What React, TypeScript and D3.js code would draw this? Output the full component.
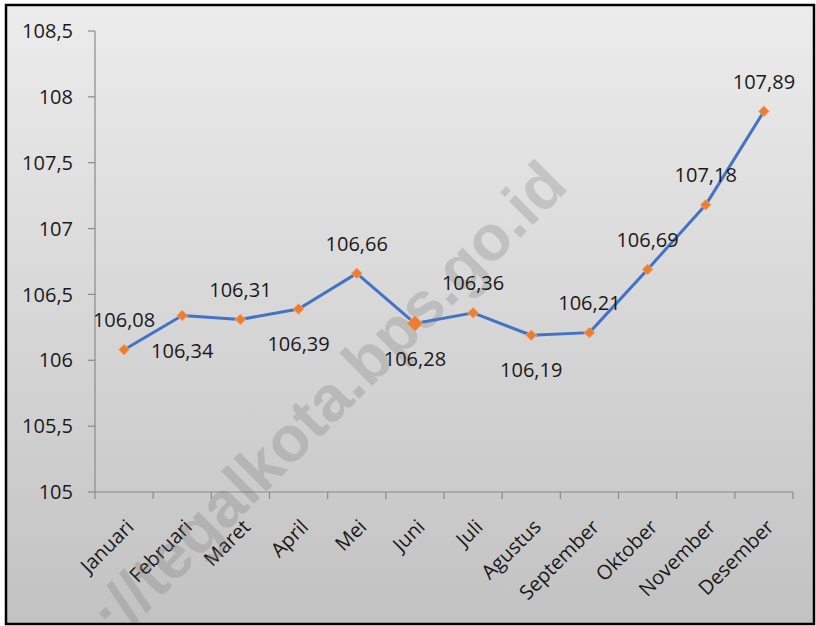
import React from "react";
import * as d3 from "d3";

const months = ["Januari","Februari","Maret","April","Mei","Juni","Juli","Agustus","September","Oktober","November","Desember"];
const values = [106.08,106.34,106.31,106.39,106.66,106.28,106.36,106.19,106.21,106.69,107.18,107.89];
const labelSide = ["above","below","above","below","above","below","above","below","above","above","above","above"];
const yTicks = [105,105.5,106,106.5,107,107.5,108,108.5];

const W = 816, H = 626;
const FONT = "'Open Sans', 'Noto Sans', sans-serif";

export default function App() {
  const x = d3.scaleBand<string>().domain(months).range([95, 793]);
  const y = d3.scaleLinear().domain([105, 108.5]).range([492, 31]);
  const cx = (m: string) => (x(m) as number) + x.bandwidth() / 2;
  const fmt = (v: number) => String(v).replace(".", ",");
  const line = d3.line<number>().x((_, i) => cx(months[i])).y((v) => y(v));
  const edges = months.map((m) => x(m) as number).concat([x.range()[1]]);
  const sq = d3.symbol().type(d3.symbolSquare);

  return (
    <svg width={W} height={H} style={{ position: "absolute", left: 0, top: 0, background: "#fff" }}>
      <defs>
        <linearGradient id="bg" x1="0" y1="0" x2="0" y2="1">
          <stop offset="0" stopColor="#ececec" />
          <stop offset="1" stopColor="#c2c2c2" />
        </linearGradient>
        <clipPath id="clip">
          <rect x={6} y={5} width={808} height={619} />
        </clipPath>
      </defs>
      <rect x={6} y={5} width={808} height={619} fill="url(#bg)" />

      {/* y axis */}
      <line x1={95} x2={95} y1={y(108.5)} y2={y(105)} stroke="#8a8a8a" strokeWidth={1.2} />
      {yTicks.map((t) => (
        <g key={t}>
          <line x1={88} x2={95} y1={y(t)} y2={y(t)} stroke="#8a8a8a" strokeWidth={1.2} />
          <text x={73} y={y(t)} dy="0.36em" textAnchor="end" fontFamily={FONT} fontSize={20} fill="#1a1a1a">
            {fmt(t)}
          </text>
        </g>
      ))}

      {/* x axis */}
      <line x1={x.range()[0]} x2={x.range()[1]} y1={y(105)} y2={y(105)} stroke="#8a8a8a" strokeWidth={1.2} />
      {edges.map((e, i) => (
        <line key={i} x1={e} x2={e} y1={y(105)} y2={y(105) + 7} stroke="#8a8a8a" strokeWidth={1.2} />
      ))}
      {months.map((m) => (
        <text
          key={m}
          transform={`translate(${cx(m) + 6},${y(105) + 31}) rotate(-45)`}
          dy="0.36em"
          textAnchor="end"
          fontFamily={FONT}
          fontSize={20}
          fill="#1a1a1a"
        >
          {m}
        </text>
      ))}

      {/* watermark */}
      <g clipPath="url(#clip)">
        <text
          transform="translate(570,188) rotate(-45)"
          textAnchor="end"
          fontFamily="'Liberation Sans', Arial, sans-serif"
          fontWeight="bold"
          fontSize={64}
          fill="#6e6e6e"
          fillOpacity={0.25}
        >
          ://tegalkota.bps.go.id
        </text>
      </g>

      {/* series */}
      <path d={line(values) || ""} fill="none" stroke="#4472C4" strokeWidth={3} strokeLinejoin="round" />
      {values.map((v, i) => (
        <path
          key={i}
          d={sq.size(months[i] === "Juni" ? 128 : 60)() || ""}
          transform={`translate(${cx(months[i])},${y(v)}) rotate(45)`}
          fill="#ED7D31"
          stroke="#F4B183"
          strokeWidth={0.8}
        />
      ))}
      {values.map((v, i) => (
        <text
          key={"l" + i}
          x={cx(months[i])}
          y={y(v) + (labelSide[i] === "above" ? -30 : 35)}
          dy="0.36em"
          textAnchor="middle"
          fontFamily={FONT}
          fontSize={20}
          fill="#1a1a1a"
        >
          {fmt(v)}
        </text>
      ))}

      <rect x={6} y={5} width={808} height={619} fill="none" stroke="#000" strokeWidth={2.5} />
    </svg>
  );
}
